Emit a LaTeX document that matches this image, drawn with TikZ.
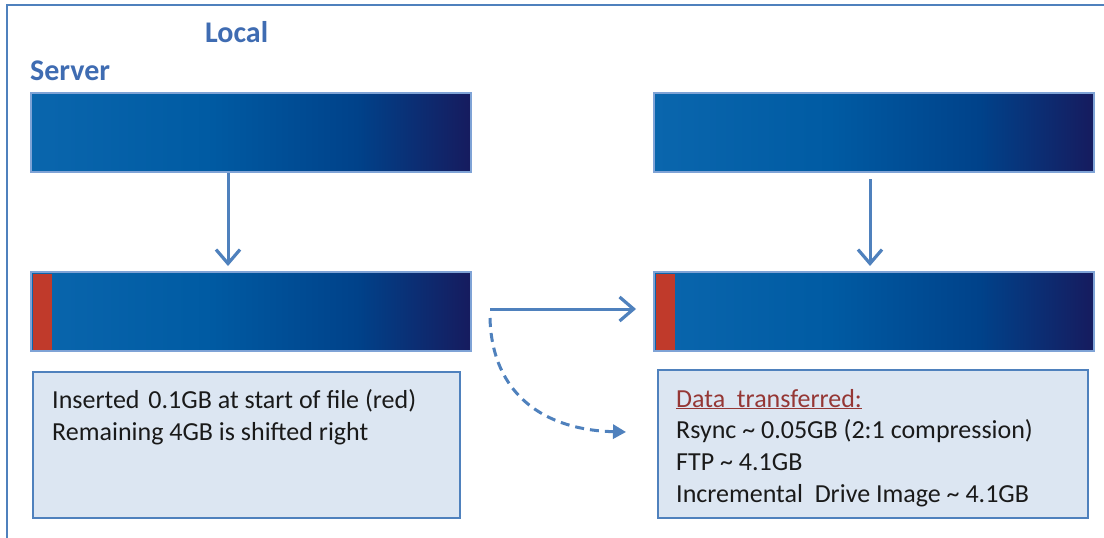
\documentclass[tikz,border=0pt]{standalone}
\usepackage{fontspec}
\setmainfont{Carlito}
\usetikzlibrary{arrows.meta}
\definecolor{frameblue}{HTML}{4F81BD}
\definecolor{titleblue}{HTML}{3F6CB2}
\definecolor{barA}{HTML}{0A66AD}
\definecolor{barB}{HTML}{005BA3}
\definecolor{barC}{HTML}{00428A}
\definecolor{barD}{HTML}{161B5E}
\definecolor{barline}{HTML}{7FA3D6}
\definecolor{stripred}{HTML}{C03A2B}
\definecolor{boxfill}{HTML}{DCE6F2}
\definecolor{boxline}{HTML}{4F81BD}
\definecolor{headred}{HTML}{953735}
\definecolor{txtcol}{HTML}{1A1A1A}
\pgfdeclarehorizontalshading{barshade}{100bp}{color(0bp)=(barA); color(25bp)=(barA); color(45bp)=(barB); color(62bp)=(barC); color(75bp)=(barD); color(100bp)=(barD)}
\tikzset{
  bar/.style={draw=barline, line width=2pt, shading=barshade, minimum width=440pt, minimum height=79pt, inner sep=0pt},
  redstrip/.style={fill=stripred, minimum width=19pt, minimum height=76pt, inner sep=0pt},
  infobox/.style={draw=boxline, line width=1.2pt, fill=boxfill, inner sep=0pt},
  txt/.style={font=\fontsize{26}{30}\selectfont, text=txtcol, inner sep=0pt, anchor=base west},
  title/.style={font=\fontsize{30}{34}\selectfont\bfseries, text=titleblue, inner sep=0pt, anchor=base west},
  conn/.style={draw=frameblue, line width=3pt},
  barb/.style={-{Straight Barb[length=14pt,width=24pt,line width=3.2pt]}},
  frame/.style={draw=frameblue, line width=2.5pt}
}
\begin{document}
\begin{tikzpicture}[x=1pt,y=-1pt]
\useasboundingbox (0,0) rectangle (1104,538);
\fill[white] (0,0) rectangle (1104,538);
\draw[frame] (7,560) -- (7,5) -- (1120,5);
\node[title] (local) at (205,42) {Local};
\node[title] (server) at (30,80) {Server};
% bars
\node[bar] (b1) at (251,132.5) {};
\node[bar] (b2) at (874,132.5) {};
\node[bar] (b3) at (251,311.5) {};
\node[bar] (b4) at (874,311.5) {};
\node[redstrip, anchor=west] (r1) at ([xshift=3pt]b3.west) {};
\node[redstrip, anchor=west] (r2) at ([xshift=3pt]b4.west) {};
% info boxes
\node[infobox, minimum width=427pt, minimum height=146pt] (box1) at (246.5,445) {};
\node[infobox, minimum width=430pt, minimum height=148pt] (box2) at (873,444) {};
\node[txt] (t1a) at (52,408) {Inserted\hspace{3pt} 0.1GB at start of file (red)};
\node[txt] (t1b) at (52,440) {Remaining 4GB is shifted right};
\node[txt, text=headred] (t2a) at (676,407) {\underline{Data\ \ transferred:}};
\node[txt] (t2b) at (676,438) {Rsync \textasciitilde\ 0.05GB (2:1 compression)};
\node[txt] (t2c) at (676,470) {FTP \textasciitilde\ 4.1GB};
\node[txt] (t2d) at (676,502) {Incremental\ \ Drive Image \textasciitilde\ 4.1GB};
% arrows
\draw[conn, barb] ([xshift=-23pt]b1.south) -- ([xshift=-23pt,yshift=5pt]b3.north);
\draw[conn, barb] ([xshift=-4pt,yshift=-6pt]b2.south) -- ([xshift=-4pt,yshift=5pt]b4.north);
\coordinate (hs) at (490,309);
\coordinate (he) at (636,309);
\draw[conn, barb] (hs) -- (he);
\coordinate (ds) at (490,318);
\coordinate (de) at (626,432);
\draw[conn, dashed, dash pattern=on 9pt off 6pt, -{Triangle[length=13pt,width=14pt]}] (ds) .. controls (492,395) and (545,430) .. (de);
\end{tikzpicture}
\end{document}
